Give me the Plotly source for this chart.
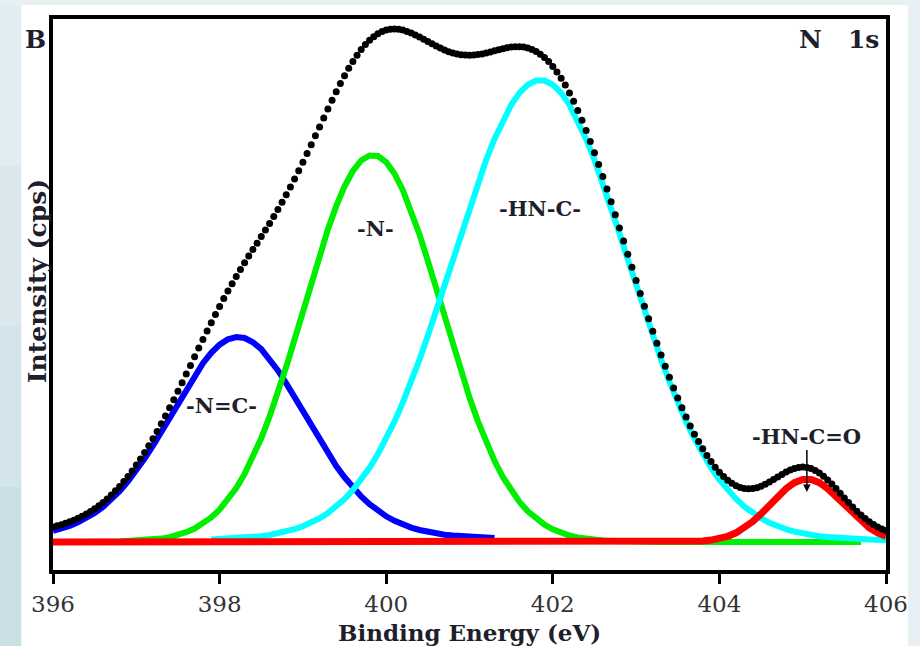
import plotly.graph_objects as go

# Binding energy grid (eV) for the fitted component curves
energy = [
    396.0, 396.1, 396.2, 396.3, 396.4, 396.5, 396.6, 396.7, 396.8, 396.9,
    397.0, 397.1, 397.2, 397.3, 397.4, 397.5, 397.6, 397.7, 397.8, 397.9,
    398.0, 398.1, 398.2, 398.3, 398.4, 398.5, 398.6, 398.7, 398.8, 398.9,
    399.0, 399.1, 399.2, 399.3, 399.4, 399.5, 399.6, 399.7, 399.8, 399.9,
    400.0, 400.1, 400.2, 400.3, 400.4, 400.5, 400.6, 400.7, 400.8, 400.9,
    401.0, 401.1, 401.2, 401.3, 401.4, 401.5, 401.6, 401.7, 401.8, 401.9,
    402.0, 402.1, 402.2, 402.3, 402.4, 402.5, 402.6, 402.7, 402.8, 402.9,
    403.0, 403.1, 403.2, 403.3, 403.4, 403.5, 403.6, 403.7, 403.8, 403.9,
    404.0, 404.1, 404.2, 404.3, 404.4, 404.5, 404.6, 404.7, 404.8, 404.9,
    405.0, 405.1, 405.2, 405.3, 405.4, 405.5, 405.6, 405.7, 405.8, 405.9,
    406.0,
]

# Binding energy grid (eV) of the measured spectrum (black dots)
dot_energy = [
    396.00, 396.05, 396.10, 396.15, 396.20, 396.25, 396.30, 396.35, 396.40, 396.45,
    396.50, 396.55, 396.60, 396.65, 396.70, 396.75, 396.80, 396.85, 396.90, 396.95,
    397.00, 397.05, 397.10, 397.15, 397.20, 397.25, 397.30, 397.35, 397.40, 397.45,
    397.50, 397.55, 397.60, 397.65, 397.70, 397.75, 397.80, 397.85, 397.90, 397.95,
    398.00, 398.05, 398.10, 398.15, 398.20, 398.25, 398.30, 398.35, 398.40, 398.45,
    398.50, 398.55, 398.60, 398.65, 398.70, 398.75, 398.80, 398.85, 398.90, 398.95,
    399.00, 399.05, 399.10, 399.15, 399.20, 399.25, 399.30, 399.35, 399.40, 399.45,
    399.50, 399.55, 399.60, 399.65, 399.70, 399.75, 399.80, 399.85, 399.90, 399.95,
    400.00, 400.05, 400.10, 400.15, 400.20, 400.25, 400.30, 400.35, 400.40, 400.45,
    400.50, 400.55, 400.60, 400.65, 400.70, 400.75, 400.80, 400.85, 400.90, 400.95,
    401.00, 401.05, 401.10, 401.15, 401.20, 401.25, 401.30, 401.35, 401.40, 401.45,
    401.50, 401.55, 401.60, 401.65, 401.70, 401.75, 401.80, 401.85, 401.90, 401.95,
    402.00, 402.05, 402.10, 402.15, 402.20, 402.25, 402.30, 402.35, 402.40, 402.45,
    402.50, 402.55, 402.60, 402.65, 402.70, 402.75, 402.80, 402.85, 402.90, 402.95,
    403.00, 403.05, 403.10, 403.15, 403.20, 403.25, 403.30, 403.35, 403.40, 403.45,
    403.50, 403.55, 403.60, 403.65, 403.70, 403.75, 403.80, 403.85, 403.90, 403.95,
    404.00, 404.05, 404.10, 404.15, 404.20, 404.25, 404.30, 404.35, 404.40, 404.45,
    404.50, 404.55, 404.60, 404.65, 404.70, 404.75, 404.80, 404.85, 404.90, 404.95,
    405.00, 405.05, 405.10, 405.15, 405.20, 405.25, 405.30, 405.35, 405.40, 405.45,
    405.50, 405.55, 405.60, 405.65, 405.70, 405.75, 405.80, 405.85, 405.90, 405.95,
    406.00,
]

# Measured N 1s intensity (black dots)
measured = [
    15.1, 16.2, 17.3, 18.8, 20.2, 21.8, 23.7, 25.7, 28.0, 30.4,
    33.2, 36.2, 39.6, 43.1, 47.0, 51.2, 55.6, 60.4, 65.6, 71.1,
    77.0, 83.1, 89.6, 96.3, 103.3, 110.6, 118.3, 126.1, 134.2, 142.3,
    150.8, 159.3, 167.9, 176.6, 185.2, 193.9, 202.4, 211.0, 219.2, 227.5,
    235.5, 243.4, 251.0, 258.3, 265.4, 272.5, 279.3, 285.9, 292.4, 298.8,
    305.4, 312.0, 318.6, 325.4, 332.4, 339.7, 347.2, 354.9, 362.9, 371.2,
    379.7, 388.4, 397.2, 406.2, 415.1, 424.1, 433.0, 441.8, 450.2, 458.4,
    466.3, 473.7, 480.5, 486.7, 492.4, 497.4, 501.7, 505.3, 508.3, 510.5,
    511.9, 512.8, 513.1, 512.8, 511.9, 510.6, 509.1, 507.1, 505.0, 502.7,
    500.4, 498.2, 495.9, 493.9, 492.0, 490.3, 489.1, 488.0, 487.3, 486.9,
    486.8, 487.0, 487.5, 488.1, 489.1, 490.1, 491.2, 492.3, 493.2, 494.2,
    494.9, 495.3, 495.3, 494.9, 494.0, 492.5, 490.5, 487.8, 484.5, 480.4,
    475.6, 470.1, 463.8, 456.9, 449.0, 440.7, 431.5, 421.8, 411.5, 400.6,
    389.3, 377.5, 365.5, 353.0, 340.2, 327.3, 314.1, 301.1, 287.8, 274.7,
    261.4, 248.5, 235.7, 223.2, 210.7, 198.7, 187.0, 175.7, 164.7, 154.1,
    144.0, 134.3, 124.9, 116.1, 107.7, 100.5, 93.2, 86.5, 80.4, 74.8,
    69.7, 65.4, 61.7, 58.7, 56.3, 54.5, 53.5, 53.2, 53.4, 54.3,
    55.8, 57.8, 59.9, 62.4, 65.1, 67.6, 70.0, 72.0, 73.5, 74.6,
    74.9, 74.5, 73.4, 71.5, 68.9, 65.7, 62.0, 57.9, 53.4, 48.7,
    44.0, 39.5, 35.0, 30.8, 26.9, 23.5, 20.3, 17.5, 15.1, 13.1,
    11.4,
]

# -N=C- component (blue)
comp_nc = [
    11.1, 13.3, 16.1, 19.6, 23.8, 28.9, 35.1, 42.4, 50.8, 60.5,
    71.4, 83.4, 96.4, 110.2, 124.5, 138.9, 153.1, 166.6, 178.8, 189.2,
    197.3, 202.7, 204.9, 204.0, 199.8, 192.8, 183.2, 171.6, 158.6, 144.6,
    130.2, 115.8, 101.8, 88.5, 76.0, 64.7, 54.6, 45.6, 37.9, 31.3,
    25.7, 21.2, 17.4, 14.4, 12.0, 10.0, 8.5, 7.3, 6.4, 5.7,
    5.1, 4.6, 4.2, 3.9, None, None, None, None, None, None,
    None, None, None, None, None, None, None, None, None, None,
    None, None, None, None, None, None, None, None, None, None,
    None, None, None, None, None, None, None, None, None, None,
    None, None, None, None, None, None, None, None, None, None,
    None,
]

# -N- component (green)
comp_n = [
    None, None, None, None, None, None, None, None, 0.4, 0.7,
    1.1, 1.6, 2.3, 3.4, 4.9, 7.0, 9.8, 13.5, 18.3, 24.5,
    32.4, 42.1, 53.9, 68.1, 84.7, 103.8, 125.4, 149.3, 175.2, 202.5,
    230.8, 259.1, 286.6, 312.5, 335.8, 355.6, 371.0, 381.5, 386.5, 386.0,
    379.8, 368.3, 351.9, 331.4, 307.5, 281.2, 253.4, 225.1, 197.0, 169.9,
    144.4, 120.9, 99.8, 81.2, 65.0, 51.4, 40.0, 30.7, 23.2, 17.3,
    12.7, 9.2, 6.5, 4.6, 3.2, 2.2, 1.5, 1.0, 0.6, 0.4,
    0.2, 0.1, 0.0, 0.0, 0.0, 0.0, 0.0, 0.0, 0.0, 0.0,
    0.0, 0.0, 0.0, 0.0, 0.0, 0.0, 0.0, 0.0, 0.0, 0.0,
    0.0, 0.0, 0.0, 0.0, 0.0, 0.0, 0.0, 0.0, None, None,
    None,
]

# -HN-C- component (cyan)
comp_hnc = [
    None, None, None, None, None, None, None, None, None, None,
    None, None, None, None, None, None, None, None, None, 2.5,
    2.8, 3.2, 3.6, 4.2, 4.9, 5.8, 7.0, 8.5, 10.4, 12.8,
    15.7, 19.3, 23.7, 29.0, 35.4, 43.0, 51.9, 62.3, 74.3, 88.0,
    103.4, 120.6, 139.6, 160.3, 182.5, 206.2, 231.0, 256.6, 282.7, 308.7,
    334.3, 359.0, 382.1, 403.1, 421.6, 437.1, 449.1, 457.3, 461.5, 461.5,
    457.3, 449.1, 437.1, 421.6, 403.1, 382.1, 359.0, 334.3, 308.7, 282.7,
    256.6, 231.0, 206.2, 182.5, 160.3, 139.6, 120.6, 103.4, 88.0, 74.3,
    62.3, 51.9, 43.0, 35.4, 29.0, 23.7, 19.3, 15.7, 12.8, 10.4,
    8.5, 7.0, 5.8, 4.9, 4.2, 3.6, 3.2, 2.8, 2.5, 2.3,
    2.1,
]

# -HN-C=O component (red)
comp_hnco = [
    0.0, 0.0, 0.0, 0.0, 0.0, 0.0, 0.0, 0.0, 0.0, 0.0,
    0.0, 0.0, 0.0, 0.0, 0.0, 0.0, 0.0, 0.0, 0.0, 0.0,
    0.0, 0.0, 0.0, 0.0, 0.0, 0.0, 0.0, 0.0, 0.0, 0.0,
    0.0, 0.0, 0.0, 0.0, 0.0, 0.0, 0.0, 0.0, 0.0, 0.0,
    0.0, 0.0, 0.0, 0.0, 0.0, 0.0, 0.0, 0.0, 0.0, 0.0,
    0.0, 0.0, 0.0, 0.0, 0.0, 0.0, 0.0, 0.0, 0.0, 0.0,
    0.0, 0.0, 0.0, 0.0, 0.0, 0.0, 0.0, 0.0, 0.0, 0.0,
    0.0, 0.0, 0.0, 0.0, 0.0, 0.0, 0.0, 0.0, 1.0, 1.9,
    3.3, 5.7, 9.2, 14.1, 20.4, 28.1, 36.7, 45.5, 53.3, 59.3,
    62.6, 62.6, 59.3, 53.3, 45.5, 36.7, 28.1, 20.4, 14.1, 9.2,
    5.7,
]

x_ticks = [396, 398, 400, 402, 404, 406]
peak_labels = ["-N=C-", "-N-", "-HN-C-"]
peak_label_x = [398.02, 399.87, 401.85]
peak_label_y = [137, 314, 334]
hnco_label = "-HN-C=O"
hnco_peak_x = 405.05
hnco_peak_y = 50

SERIF = "DejaVu Serif"
TXT = "#1e1e2c"

fig = go.Figure()
fig.add_trace(go.Scatter(x=energy, y=comp_nc, mode="lines",
                         line=dict(color="#0000ff", width=6), name="-N=C-"))
fig.add_trace(go.Scatter(x=energy, y=comp_n, mode="lines",
                         line=dict(color="#00ee00", width=6), name="-N-"))
fig.add_trace(go.Scatter(x=energy, y=comp_hnc, mode="lines",
                         line=dict(color="#00ffff", width=6), name="-HN-C-"))
fig.add_trace(go.Scatter(x=energy, y=comp_hnco, mode="lines",
                         line=dict(color="#ff0000", width=7), name="-HN-C=O"))
fig.add_trace(go.Scatter(x=dot_energy, y=measured, mode="markers",
                         marker=dict(color="#000000", size=7), name="N 1s"))

annotations = []
for t, xx, yy in zip(peak_labels, peak_label_x, peak_label_y):
    annotations.append(dict(x=xx, y=yy, xref="x", yref="y", text=t, showarrow=False,
                            font=dict(family=SERIF, size=21, color=TXT, weight="bold")))
annotations.append(dict(x=hnco_peak_x, y=hnco_peak_y, xref="x", yref="y", text=hnco_label,
                        showarrow=True, ax=0, ay=-56, arrowhead=2, arrowsize=1,
                        arrowwidth=1.5, arrowcolor="#000000",
                        font=dict(family=SERIF, size=21, color=TXT, weight="bold")))
annotations.append(dict(x=-0.0215, y=0.962, xref="paper", yref="paper", text="B",
                        showarrow=False, xanchor="center", yanchor="middle",
                        font=dict(family=SERIF, size=25, color=TXT, weight="bold")))
annotations.append(dict(x=0.994, y=0.962, xref="paper", yref="paper",
                        text="N\u00a0\u00a0\u00a01s",
                        showarrow=False, xanchor="right", yanchor="middle",
                        font=dict(family=SERIF, size=25, color=TXT, weight="bold")))
annotations.append(dict(x=0.5, y=-0.113, xref="paper", yref="paper",
                        text="Binding Energy (eV)", showarrow=False,
                        xanchor="center", yanchor="middle",
                        font=dict(family=SERIF, size=23, color=TXT, weight="bold")))
annotations.append(dict(x=-0.019, y=0.5245, xref="paper", yref="paper",
                        text="Intensity (cps)", showarrow=False, textangle=-90,
                        xanchor="center", yanchor="middle",
                        font=dict(family=SERIF, size=25, color=TXT, weight="bold")))

# page background: light blue-grey margins with a white card
shapes = [
    dict(type="rect", xref="paper", yref="paper", x0=-0.0382, x1=1.0263,
         y0=-0.14, y1=1.0254, fillcolor="white", line=dict(width=0), layer="below"),
]
band_colors = ["#e2edf1", "#dae8ee", "#d3e4ea", "#cbdfe6"]
for k, c in enumerate(band_colors):
    y_top = 1.0254 - k * (1.0254 + 0.14) / 4
    y_bot = 1.0254 - (k + 1) * (1.0254 + 0.14) / 4
    shapes.append(dict(type="rect", xref="paper", yref="paper", x0=-0.07, x1=-0.0382,
                       y0=y_bot, y1=y_top, fillcolor=c, line=dict(width=0), layer="below"))

fig.update_layout(
    width=920, height=646, autosize=False,
    margin=dict(l=53, r=30, t=19, b=76),
    paper_bgcolor="#e7f0f3", plot_bgcolor="white",
    showlegend=False,
    annotations=annotations,
    shapes=shapes,
    xaxis=dict(range=[396, 406], tickvals=x_ticks, ticktext=[str(v) for v in x_ticks],
               showgrid=False, zeroline=False, showline=True, linecolor="#000000",
               linewidth=4, mirror=True, ticks="outside", ticklen=10, tickwidth=3,
               tickcolor="#000000",
               tickfont=dict(family=SERIF, size=23, color="#333333")),
    yaxis=dict(range=[-28, 523], showgrid=False, zeroline=False, showline=True,
               linecolor="#000000", linewidth=4, mirror=True, showticklabels=False,
               ticks=""),
)

fig.write_html(
    "out.html",
    config={"displayModeBar": False},
    post_script="document.body.style.margin='0px';document.body.style.overflow='hidden';",
)
